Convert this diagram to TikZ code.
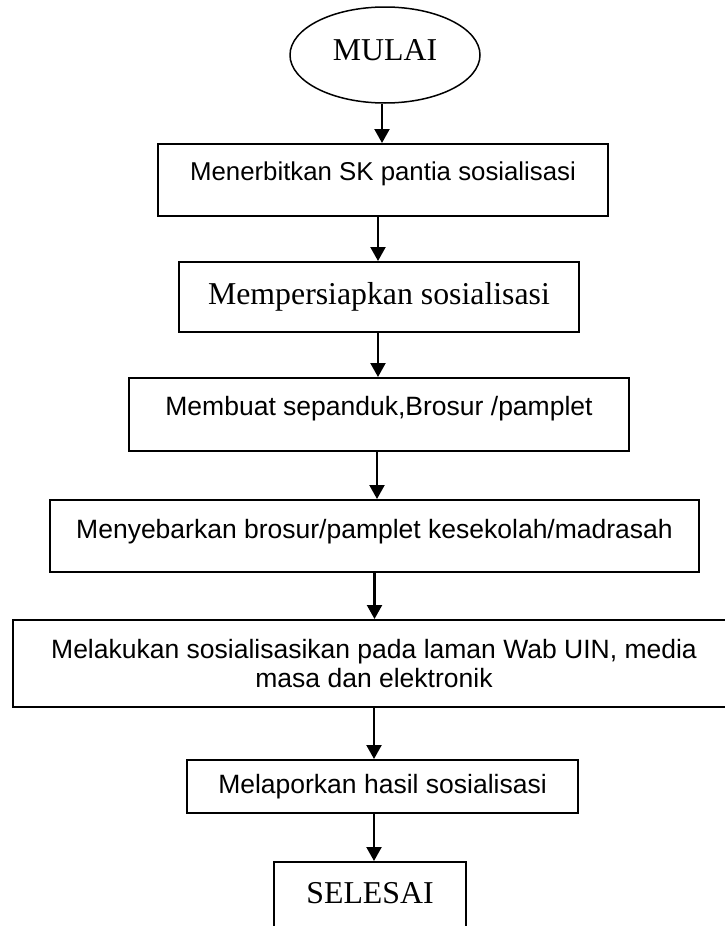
\documentclass[tikz,border=0pt]{standalone}
\usepackage{fontspec}
\setmainfont{Liberation Serif}
\newfontfamily\arial{Liberation Sans}
\usetikzlibrary{arrows.meta,shapes.geometric}

\newcommand{\serifsize}{\fontsize{31.8}{36}\selectfont}
\newcommand{\sanssize}{\arial\fontsize{26.5}{29}\selectfont}

\tikzset{
  box/.style={draw,line width=2pt,rectangle,inner sep=0pt,font=\sanssize},
  flow/.style={line width=2.2pt,-{Triangle[width=15pt,length=14pt]}},
}

\begin{document}
\begin{tikzpicture}[x=1pt,y=-1pt]
\useasboundingbox (0,0) rectangle (725,926);
\clip (0,0) rectangle (725,926);
% start / end
\node[ellipse,draw,line width=1.5pt,minimum width=190pt,minimum height=96pt,inner sep=0pt,font=\serifsize,text height=22pt,text depth=10.8pt] (start) at (385,55) {MULAI};
\node[box,minimum width=192pt,minimum height=100pt,font=\serifsize,text height=22pt,text depth=38.8pt] (end) at (370,912) {SELESAI};
% steps
\node[box,minimum width=450pt,minimum height=72pt,font=\arial\fontsize{25.8}{29}\selectfont,text height=19pt,text depth=18.7pt] (b1) at (383,180) {Menerbitkan SK pantia sosialisasi};
\node[box,minimum width=400pt,minimum height=70pt,font=\serifsize] (b2) at (379,297) {Mempersiapkan sosialisasi};
\node[box,minimum width=500pt,minimum height=73pt,text height=19pt,text depth=17.7pt] (b3) at (379,414.5) {Membuat sepanduk,Brosur /pamplet};
\node[box,minimum width=649pt,minimum height=72pt,text height=19pt,text depth=13.7pt] (b4) at (374.5,536) {Menyebarkan brosur/pamplet kesekolah/madrasah};
\node[box,minimum width=722pt,minimum height=87pt,align=center] (b5) at (374,663.5) {Melakukan sosialisasikan pada laman Wab UIN, media\\masa dan elektronik};
\node[box,minimum width=391pt,minimum height=53pt] (b6) at (382.5,786.5) {Melaporkan hasil sosialisasi};
% connectors
\foreach \a/\b/\x in {start/b1/382,b1/b2/378,b2/b3/378,b3/b4/377,b4/b5/374.5,b5/b6/374,b6/end/374}
  \draw[flow] (\a.south -| \x,0) -- (\b.north -| \x,0);
\end{tikzpicture}
\end{document}
